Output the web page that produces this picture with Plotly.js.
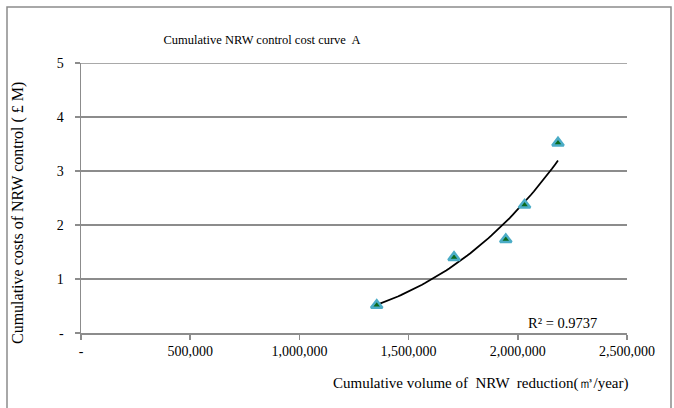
<!DOCTYPE html>
<html>
<head>
<meta charset="utf-8">
<script src="https://cdn.plot.ly/plotly-3.0.1.min.js"></script>
<style>html,body{margin:0;padding:0;background:#fff;}#chart{width:674px;height:408px;}</style>
</head>
<body>
<div id="chart"></div>
<script>
// Data
var volumeReduction = [1354000, 1708000, 1945000, 2031000, 2184000]; // m3/year
var cumulativeCost = [0.515, 1.40, 1.73, 2.37, 3.52];              // £ M
var xTickVals = [0, 500000, 1000000, 1500000, 2000000, 2500000];
var xTickText = ['-', '500,000', '1,000,000', '1,500,000', '2,000,000', '2,500,000'];
var yTickVals = [0, 1, 2, 3, 4, 5];
var yTickText = ['-', '1', '2', '3', '4', '5'];
var rSquaredLabel = 'R² = 0.9737';

// Power trendline (least squares on ln x, ln y) fitted to the data points
var lx = volumeReduction.map(function(v){return Math.log(v);});
var ly = cumulativeCost.map(function(v){return Math.log(v);});
var n = lx.length, mx = 0, my = 0;
for (var i = 0; i < n; i++) { mx += lx[i] / n; my += ly[i] / n; }
var sxy = 0, sxx = 0;
for (var i = 0; i < n; i++) { sxy += (lx[i]-mx)*(ly[i]-my); sxx += (lx[i]-mx)*(lx[i]-mx); }
var b = sxy / sxx, a = Math.exp(my - b * mx);
var xmin = Math.min.apply(null, volumeReduction), xmax = Math.max.apply(null, volumeReduction);
var trendX = [], trendY = [];
for (var k = 0; k <= 60; k++) {
  var xv = xmin + (xmax - xmin) * k / 60;
  trendX.push(xv); trendY.push(a * Math.pow(xv, b));
}

var font = 'Liberation Serif, Times New Roman, serif';
var gray = '#8c8c8c';
var L = 81, W = 546, T = 63, H = 270, Bm = 75;
function px(x){ return (x - L) / W; }
function py(y){ return (T + H - y) / H; }
var yMax = yTickVals[yTickVals.length - 1];

var traces = [
  {x: trendX, y: trendY, mode: 'lines', type: 'scatter',
   line: {color: '#000', width: 1.8}, hoverinfo: 'skip', showlegend: false},
  {x: volumeReduction, y: cumulativeCost, mode: 'markers', type: 'scatter',
   marker: {symbol: 'triangle-up', size: 10, color: '#0b6b1e', line: {color: '#4bacc6', width: 2.5}},
   showlegend: false}
];

var layout = {
  width: 674, height: 408,
  margin: {l: L, r: 674 - L - W, t: T, b: Bm},
  paper_bgcolor: '#fff', plot_bgcolor: '#fff',
  font: {family: font, size: 13, color: '#000'},
  title: {text: 'Cumulative NRW control cost curve  A', font: {family: font, size: 12.5, color: '#000'},
          x: 262/674, xanchor: 'center', y: 1 - 40/408, yanchor: 'middle'},
  xaxis: {range: [0, 2500000], tickvals: xTickVals, ticktext: xTickText,
          showgrid: false, zeroline: false, showline: true, linecolor: gray, linewidth: 1.5,
          ticks: 'outside', ticklen: 5, tickcolor: gray, tickwidth: 1.5,
          tickfont: {family: font, size: 14}, fixedrange: true},
  yaxis: {range: [0, yMax], tickvals: yTickVals, ticktext: yTickText,
          showgrid: true, gridcolor: gray, gridwidth: 1.5, zeroline: false,
          showline: true, linecolor: gray, linewidth: 1.5,
          ticks: 'outside', ticklen: 5, tickcolor: gray, tickwidth: 1.5, ticklabelstandoff: 8,
          tickfont: {family: font, size: 14}, fixedrange: true},
  annotations: [
    {text: rSquaredLabel, xref: 'paper', yref: 'paper', x: px(562), y: py(323),
     xanchor: 'center', yanchor: 'middle', showarrow: false, font: {family: font, size: 14.5, color: '#000'}},
    {text: 'Cumulative volume of  NRW  reduction(㎥/year)', xref: 'paper', yref: 'paper',
     x: px(481), y: py(383), xanchor: 'center', yanchor: 'middle', showarrow: false,
     font: {family: font, size: 15, color: '#000'}},
    {text: 'Cumulative costs of NRW control ( £ M)', xref: 'paper', yref: 'paper',
     x: px(18), y: py(213), xanchor: 'center', yanchor: 'middle', textangle: -90, showarrow: false,
     font: {family: font, size: 16, color: '#000'}}
  ],
  shapes: [
    {type: 'rect', xref: 'paper', yref: 'paper', x0: px(7), x1: px(671),
     y0: -0.4, y1: py(7), line: {color: gray, width: 1.5}, fillcolor: 'rgba(0,0,0,0)', layer: 'below'},
    {type: 'line', xref: 'paper', yref: 'y', x0: 0, x1: 1, y0: yMax, y1: yMax,
     line: {color: gray, width: 1.5}, layer: 'below'}
  ]
};

Plotly.newPlot('chart', traces, layout, {displayModeBar: false, staticPlot: true});
</script>
</body>
</html>
